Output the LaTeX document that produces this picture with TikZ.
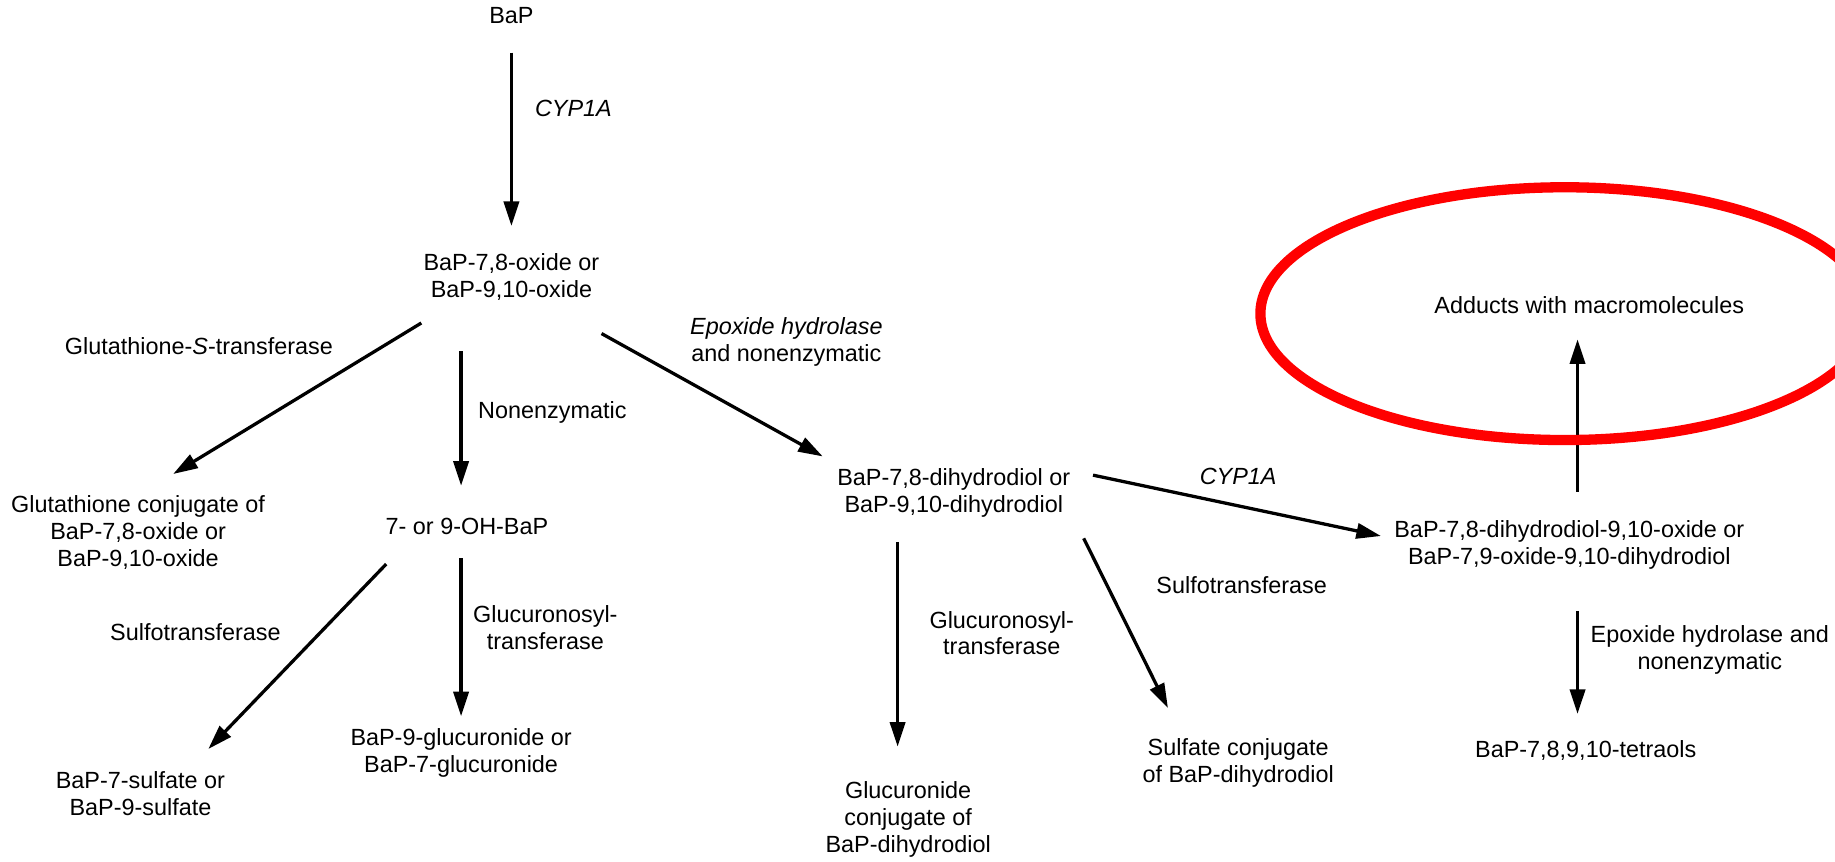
\documentclass[tikz,border=0pt]{standalone}
\usepackage{fontspec}
\setmainfont{Liberation Sans}
\usetikzlibrary{arrows.meta}

\tikzset{
  lbl/.style={align=center, inner sep=0pt, font=\fontsize{10}{11.5}\selectfont},
  enz/.style={lbl},
  arr/.style={line width=1.4pt, -{Triangle[length=10.5pt,width=6.5pt]}},
}

\begin{document}
\begin{tikzpicture}[x=0.5pt,y=-0.5pt]
\useasboundingbox (0,0) rectangle (1568,736);
\clip (0,0) rectangle (1568,736);
% metabolites
\node[lbl] (bap) at (437,13) {BaP};
\node[lbl] (oxide) at (437,237) {BaP-7,8-oxide or\\BaP-9,10-oxide};
\node[lbl] (gconj) at (118,455) {Glutathione conjugate of\\BaP-7,8-oxide or\\BaP-9,10-oxide};
\node[lbl] (oh) at (399,450) {7- or 9-OH-BaP};
\node[lbl] (diol) at (815,421) {BaP-7,8-dihydrodiol or\\BaP-9,10-dihydrodiol};
\node[lbl] (sulf) at (120,678) {BaP-7-sulfate or\\BaP-9-sulfate};
\node[lbl] (gluc) at (394,643) {BaP-9-glucuronide or\\BaP-7-glucuronide};
\node[lbl] (glucdiol) at (776,700) {Glucuronide\\conjugate of\\BaP-dihydrodiol};
\node[lbl] (sulfdiol) at (1058,652) {Sulfate conjugate\\of BaP-dihydrodiol};
\node[lbl] (epox) at (1341,466) {BaP-7,8-dihydrodiol-9,10-oxide or\\BaP-7,9-oxide-9,10-dihydrodiol};
\node[lbl] (tetra) at (1355,641) {BaP-7,8,9,10-tetraols};
\node[lbl] (adducts) at (1358,261) {Adducts with macromolecules};
% enzymes
\node[enz] (cypA) at (490,93) {\textit{CYP1A}};
\node[enz] (gst) at (170,296) {Glutathione-\textit{S}-transferase};
\node[enz] (nonenz) at (472,352) {Nonenzymatic};
\node[enz] (ephyd) at (672,292) {\textit{Epoxide hydrolase}\\and nonenzymatic};
\node[enz] (sulfoA) at (167,540) {Sulfotransferase};
\node[enz] (ugtA) at (466,536) {Glucuronosyl-\\transferase};
\node[enz] (ugtB) at (856,541) {Glucuronosyl-\\transferase};
\node[enz] (sulfoB) at (1061,500) {Sulfotransferase};
\node[enz] (cypB) at (1058,407) {\textit{CYP1A}};
\node[enz] (ephydB) at (1461,555) {Epoxide hydrolase and\\nonenzymatic};
% reactions
\draw[arr] ([shift={(0,32)}]bap.center) -- ([shift={(0,-44)}]oxide.center);
\draw[arr] ([shift={(-77,39)}]oxide.center) -- ([shift={(30,-50)}]gconj.center);
\draw[arr] ([shift={(-43,63)}]oxide.center) -- ([shift={(-5,-35)}]oh.center);
\draw[arr] ([shift={(77,48)}]oxide.center) -- ([shift={(-112,-31)}]diol.center);
\draw[arr] ([shift={(-69,32)}]oh.center) -- ([shift={(58,-38)}]sulf.center);
\draw[arr] ([shift={(-5,27)}]oh.center) -- ([shift={(0,-31)}]gluc.center);
\draw[arr] ([shift={(-48,42)}]diol.center) -- ([shift={(-9,-62)}]glucdiol.center);
\draw[arr] ([shift={(111,39)}]diol.center) -- ([shift={(-60,-47)}]sulfdiol.center);
\draw[arr] ([shift={(119,-15)}]diol.center) -- ([shift={(-161,-8)}]epox.center);
\draw[arr] ([shift={(7,-46)}]epox.center) -- ([shift={(-10,29)}]adducts.center);
\draw[arr] ([shift={(7,56)}]epox.center) -- ([shift={(-7,-31)}]tetra.center);
% highlight
\draw[red, line width=4.4pt] (1337,268) ellipse [x radius=260, y radius=108];
\end{tikzpicture}
\end{document}
